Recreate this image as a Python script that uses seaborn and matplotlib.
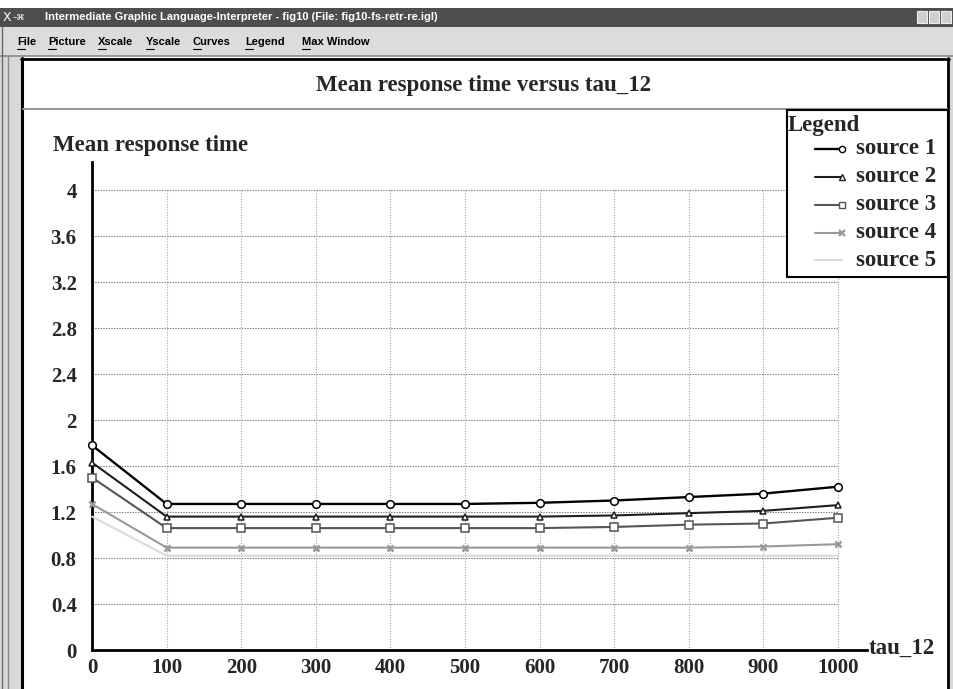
import matplotlib
matplotlib.use("Agg")
import matplotlib.pyplot as plt
from matplotlib.patches import Rectangle
from matplotlib.lines import Line2D
import numpy as np
import pandas as pd
import seaborn as sns

# ---- data ----
tau_12 = [0, 100, 200, 300, 400, 500, 600, 700, 800, 900, 1000]
source_1 = [1.78, 1.27, 1.27, 1.27, 1.27, 1.27, 1.28, 1.30, 1.33, 1.36, 1.42]
source_2 = [1.63, 1.16, 1.16, 1.16, 1.16, 1.16, 1.16, 1.17, 1.19, 1.21, 1.26]
source_3 = [1.50, 1.06, 1.06, 1.06, 1.06, 1.06, 1.06, 1.07, 1.09, 1.10, 1.15]
source_4 = [1.27, 0.89, 0.89, 0.89, 0.89, 0.89, 0.89, 0.89, 0.89, 0.90, 0.92]
source_5 = [1.16, 0.82, 0.82, 0.82, 0.82, 0.82, 0.82, 0.82, 0.82, 0.82, 0.82]
series_names = ["source 1", "source 2", "source 3", "source 4", "source 5"]
y_ticks = [0, 0.4, 0.8, 1.2, 1.6, 2, 2.4, 2.8, 3.2, 3.6, 4]
y_tick_labels = ["0", "0.4", "0.8", "1.2", "1.6", "2", "2.4", "2.8", "3.2", "3.6", "4"]
x_ticks = tau_12

series_values = [source_1, source_2, source_3, source_4, source_5]
df = pd.DataFrame({
    "tau_12": np.tile(tau_12, len(series_names)),
    "Mean response time": np.concatenate(series_values),
    "series": np.repeat(series_names, len(tau_12)),
})

colors = {"source 1": "#000000", "source 2": "#1e1e1e", "source 3": "#555555",
          "source 4": "#999999", "source 5": "#dadada"}
markers = {"source 1": "o", "source 2": "^", "source 3": "s", "source 4": "x", "source 5": ""}
msizes = {"source 1": 5.5, "source 2": 5, "source 3": 5.5, "source 4": 5, "source 5": 0}
lwidths = {"source 1": 1.7, "source 2": 1.5, "source 3": 1.5, "source 4": 1.5, "source 5": 1.5}

W, H = 954, 689
TXT = 16.5   # serif label size
TICK = 15    # tick label size
sns.set_theme(style="white")
plt.rcParams["font.family"] = ["Liberation Serif", "DejaVu Serif"]
fig = plt.figure(figsize=(W / 100, H / 100), dpi=100)
fig.patch.set_facecolor("white")


def fx(px):
    return px / W


def fy(py):
    return 1 - py / H


def frect(x0, y0, x1, y1, **kw):
    fig.add_artist(Rectangle((fx(x0), fy(y1)), fx(x1) - fx(x0), fy(y0) - fy(y1),
                             transform=fig.transFigure, **kw))


def fline(xs, ys, **kw):
    fig.add_artist(Line2D([fx(v) for v in xs], [fy(v) for v in ys],
                          transform=fig.transFigure, **kw))


# ---- window chrome ----
frect(0, 8, W, 27, facecolor="#4e4e4e", edgecolor="none")
frect(0, 27, W, 56, facecolor="#dcdcdc", edgecolor="none")
fline([0, W], [56, 56], color="#8a8a8a", lw=1.2)
frect(0, 56, 21, H, facecolor="#d8d8d8", edgecolor="none")
fline([2, 2], [27, H], color="#6a6a6a", lw=1.0)
fline([8, 8], [56, H], color="#8a8a8a", lw=1.0)
frect(949, 56, W, H, facecolor="#d8d8d8", edgecolor="none")
# title bar buttons
for bx in (917, 929, 941):
    frect(bx, 11, bx + 10, 23, facecolor="#cfcfcf", edgecolor="#eeeeee", lw=0.8)
fig.text(fx(3), fy(17.5), "X", color="white", fontsize=9, family="DejaVu Sans",
         va="center", ha="left")
fig.text(fx(13), fy(17.5), "\u2013\u2318", color="white", fontsize=6, family="DejaVu Sans",
         va="center", ha="left")
fig.text(fx(45), fy(17.5),
         "Intermediate Graphic Language-Interpreter - fig10 (File: fig10-fs-retr-re.igl)",
         color="white", fontsize=8, weight="bold", family="Liberation Sans",
         va="center", ha="left")
menu_items = [("File", 17), ("Picture", 48), ("Xscale", 98), ("Yscale", 146),
              ("Curves", 193), ("Legend", 245), ("Max Window", 302)]
for label, mx in menu_items:
    fig.text(fx(mx), fy(42), label, color="black", fontsize=8, weight="bold",
             family="Liberation Sans", va="center", ha="left")
    fline([mx, mx + 8], [48.5, 48.5], color="black", lw=0.8)

# plot frame and title strip
fline([22, 22], [58, H], color="black", lw=2.2)
fline([21, 949], [58.5, 58.5], color="black", lw=2.0)
fline([948, 948], [58, H], color="black", lw=2.0)
fline([23, 947], [109, 109], color="#9a9a9a", lw=1.5)
fig.text(fx(484), fy(85), "Mean response time versus tau_12", fontsize=TXT,
         weight="bold", ha="center", va="center")

# ---- axes ----
x0_px, x1000_px = 92, 838
y0_px, y4_px = 650, 190
ax_right_px, ax_top_px = 867, 162
xmax = 1000 * (ax_right_px - x0_px) / (x1000_px - x0_px)
ymax = 4 * (y0_px - ax_top_px) / (y0_px - y4_px)
ax = fig.add_axes([fx(x0_px), fy(y0_px), fx(ax_right_px) - fx(x0_px),
                   fy(ax_top_px) - fy(y0_px)])
ax.set_facecolor("none")
ax.set_xlim(0, xmax)
ax.set_ylim(0, ymax)

# dotted grid limited to the data range
for yt in y_ticks[1:]:
    ax.plot([0, 1000], [yt, yt], color="#7a7a7a", lw=0.8, ls=(0, (1.2, 1.2)), zorder=1)
for xt in x_ticks[1:]:
    ax.plot([xt, xt], [0, 4], color="#b4b4b4", lw=0.8, ls=(0, (1.2, 1.2)), zorder=1)

sns.lineplot(data=df, x="tau_12", y="Mean response time", hue="series",
             palette=colors, legend=False, ax=ax, zorder=3)
for line, name in zip(ax.lines[-len(series_names):], series_names):
    line.set_linewidth(lwidths[name])
    if markers[name]:
        line.set_marker(markers[name])
        line.set_markersize(msizes[name])
        if markers[name] == "x":
            line.set_markeredgewidth(1.8)
            line.set_markeredgecolor(colors[name])
        else:
            line.set_markerfacecolor("white")
            line.set_markeredgecolor(colors[name])
            line.set_markeredgewidth(1.1)
    line.set_clip_on(False)

for s in ("top", "right"):
    ax.spines[s].set_visible(False)
for s in ("left", "bottom"):
    ax.spines[s].set_color("black")
    ax.spines[s].set_linewidth(2.0)
ax.set_yticks(y_ticks)
ax.set_yticklabels(y_tick_labels)
ax.set_xticks(x_ticks)
ax.set_xticklabels([str(v) for v in x_ticks])
ax.tick_params(axis="y", direction="out", length=6, width=1.2, color="black",
               pad=5, labelsize=TICK)
ax.tick_params(axis="x", length=0, pad=6, labelsize=TICK)
for lab in ax.get_xticklabels() + ax.get_yticklabels():
    lab.set_fontweight("bold")
ax.set_xlabel("")
ax.set_ylabel("")
fig.text(fx(53), fy(145), "Mean response time", fontsize=TXT, weight="bold",
         ha="left", va="center")
fig.text(fx(869), fy(648), "tau_12", fontsize=TXT, weight="bold", ha="left", va="center")

# ---- legend ----
frect(787, 110, 948, 277, facecolor="white", edgecolor="black", lw=1.5, zorder=5)
fig.text(fx(788), fy(125), "Legend", fontsize=TXT, weight="bold", ha="left",
         va="center", zorder=6)
row_y = [149, 177, 205, 233, 260]
for name, ry in zip(series_names, row_y):
    fline([815, 842], [ry, ry], color=colors[name], lw=lwidths[name], zorder=6)
    if markers[name]:
        mk = dict(marker=markers[name], markersize=msizes[name] - 1, ls="none", zorder=7)
        if markers[name] == "x":
            mk.update(markeredgecolor=colors[name], markeredgewidth=1.6)
        else:
            mk.update(markerfacecolor="white", markeredgecolor=colors[name],
                      markeredgewidth=1.0)
        fline([842], [ry], **mk)
    fig.text(fx(856), fy(ry), name, fontsize=TXT, weight="bold", ha="left",
             va="center", zorder=6)

fig.savefig("out.png", dpi=100)
